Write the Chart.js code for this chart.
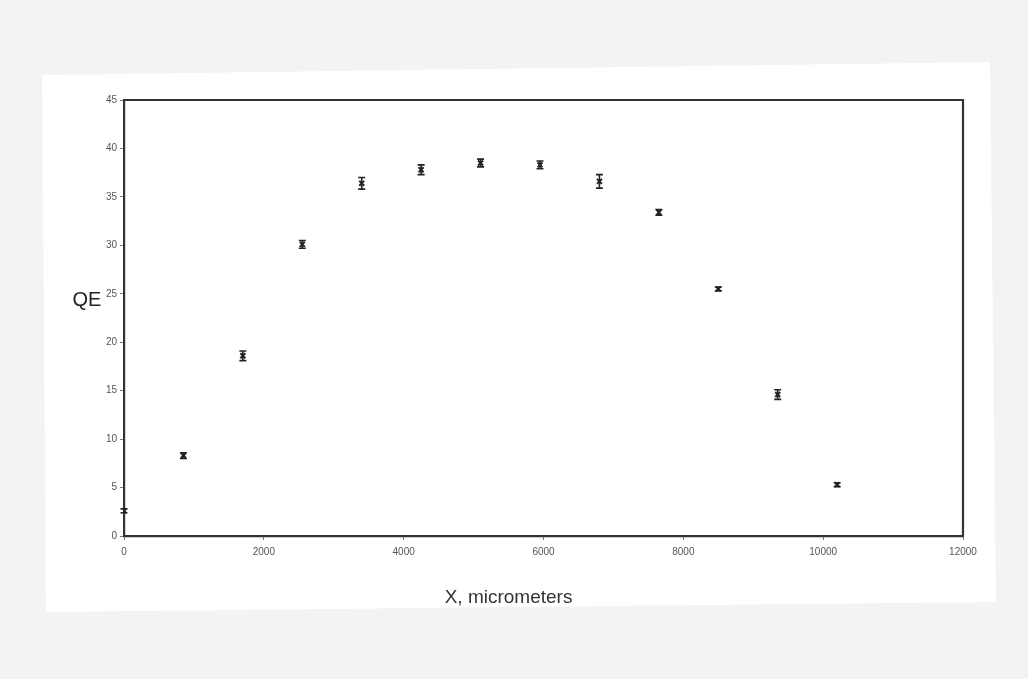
<!DOCTYPE html>
<html>
<head>
<meta charset="utf-8">
<script src="https://cdn.jsdelivr.net/npm/chart.js@4.4.1/dist/chart.umd.min.js"></script>
<style>
html,body{margin:0;padding:0;background:#f4f2f4;}
#wrap{width:1028px;height:679px;position:relative;}
</style>
</head>
<body>
<div id="wrap"><canvas id="c" width="1028" height="679"></canvas></div>
<script>
// Data
const xPositions = [0, 850, 1700, 2550, 3400, 4250, 5100, 5950, 6800, 7650, 8500, 9350, 10200];
const qeValues   = [2.6, 8.3, 18.6, 30.1, 36.4, 37.8, 38.5, 38.3, 36.6, 33.4, 25.5, 14.6, 5.3];
const qeErrors   = [0.2, 0.3, 0.5, 0.4, 0.6, 0.5, 0.4, 0.4, 0.7, 0.3, 0.2, 0.5, 0.2];
const xTicks = [0, 2000, 4000, 6000, 8000, 10000, 12000];
const yTicks = [0, 5, 10, 15, 20, 25, 30, 35, 40, 45];
const xTitle = 'X, micrometers';
const yTitle = 'QE';

const points = xPositions.map((x, i) => ({x: x, y: qeValues[i], e: qeErrors[i]}));

const paperPlugin = {
  id: 'paper',
  beforeDraw(chart) {
    const ctx = chart.ctx;
    ctx.save();
    ctx.fillStyle = '#f4f2f4';
    ctx.fillRect(0, 0, chart.width, chart.height);
    ctx.fillStyle = '#ffffff';
    ctx.beginPath();
    ctx.moveTo(42, 75); ctx.lineTo(990, 62); ctx.lineTo(996, 602); ctx.lineTo(46, 612);
    ctx.closePath(); ctx.fill();
    ctx.restore();
  }
};

const framePlugin = {
  id: 'frame',
  afterDatasetsDraw(chart) {
    const ctx = chart.ctx, a = chart.chartArea;
    const xs = chart.scales.x, ys = chart.scales.y;
    ctx.save();
    // top and right frame lines
    ctx.strokeStyle = '#333';
    ctx.lineWidth = 2.2;
    ctx.beginPath();
    ctx.moveTo(a.left, a.top); ctx.lineTo(a.right, a.top); ctx.lineTo(a.right, a.bottom);
    ctx.stroke();
    // error bars
    ctx.strokeStyle = '#222';
    ctx.lineWidth = 1.6;
    points.forEach(p => {
      const px = xs.getPixelForValue(p.x);
      const y1 = ys.getPixelForValue(p.y + p.e);
      const y2 = ys.getPixelForValue(p.y - p.e);
      ctx.beginPath();
      ctx.moveTo(px, y1); ctx.lineTo(px, y2);
      ctx.moveTo(px - 3.5, y1); ctx.lineTo(px + 3.5, y1);
      ctx.moveTo(px - 3.5, y2); ctx.lineTo(px + 3.5, y2);
      ctx.stroke();
    });
    // axis titles
    ctx.fillStyle = '#222';
    ctx.font = '20px "Liberation Sans", Arial, sans-serif';
    ctx.textAlign = 'center';
    ctx.textBaseline = 'middle';
    ctx.fillText(yTitle, a.left - 37, ys.getPixelForValue(24.3));
    ctx.fillStyle = '#333';
    ctx.font = '19px "Liberation Sans Narrow", "Liberation Sans", Arial, sans-serif';
    ctx.fillText(xTitle, xs.getPixelForValue(5500), a.bottom + 62);
    ctx.restore();
  }
};

const plainLabel = v => String(v);

new Chart(document.getElementById('c'), {
  type: 'scatter',
  data: {
    datasets: [{
      data: points,
      pointStyle: 'crossRot',
      pointRadius: 3.5,
      pointBorderWidth: 2,
      borderColor: '#222',
      backgroundColor: '#222'
    }]
  },
  options: {
    responsive: false,
    animation: false,
    events: [],
    layout: {padding: {left: 0, top: 100, right: 65, bottom: 103}},
    plugins: {legend: {display: false}, tooltip: {enabled: false}},
    scales: {
      x: {
        type: 'linear', min: 0, max: 12000,
        afterBuildTicks(s) { s.ticks = xTicks.map(v => ({value: v})); },
        afterFit(s) { s.height = 40; },
        grid: {display: true, drawOnChartArea: false, tickLength: 4, color: '#777', lineWidth: 1},
        border: {display: true, color: '#333', width: 2.2},
        ticks: {color: '#555', font: {size: 10, family: '"Liberation Sans", Arial, sans-serif'}, padding: 6, maxRotation: 0, autoSkip: false, callback: plainLabel}
      },
      y: {
        type: 'linear', min: 0, max: 45,
        afterBuildTicks(s) { s.ticks = yTicks.map(v => ({value: v})); },
        afterFit(s) { s.width = 124; },
        grid: {display: true, drawOnChartArea: false, tickLength: 4, color: '#777', lineWidth: 1},
        border: {display: true, color: '#333', width: 2.2},
        ticks: {color: '#555', font: {size: 10, family: '"Liberation Sans", Arial, sans-serif'}, padding: 3, autoSkip: false, callback: plainLabel}
      }
    }
  },
  plugins: [paperPlugin, framePlugin]
});
</script>
</body>
</html>
